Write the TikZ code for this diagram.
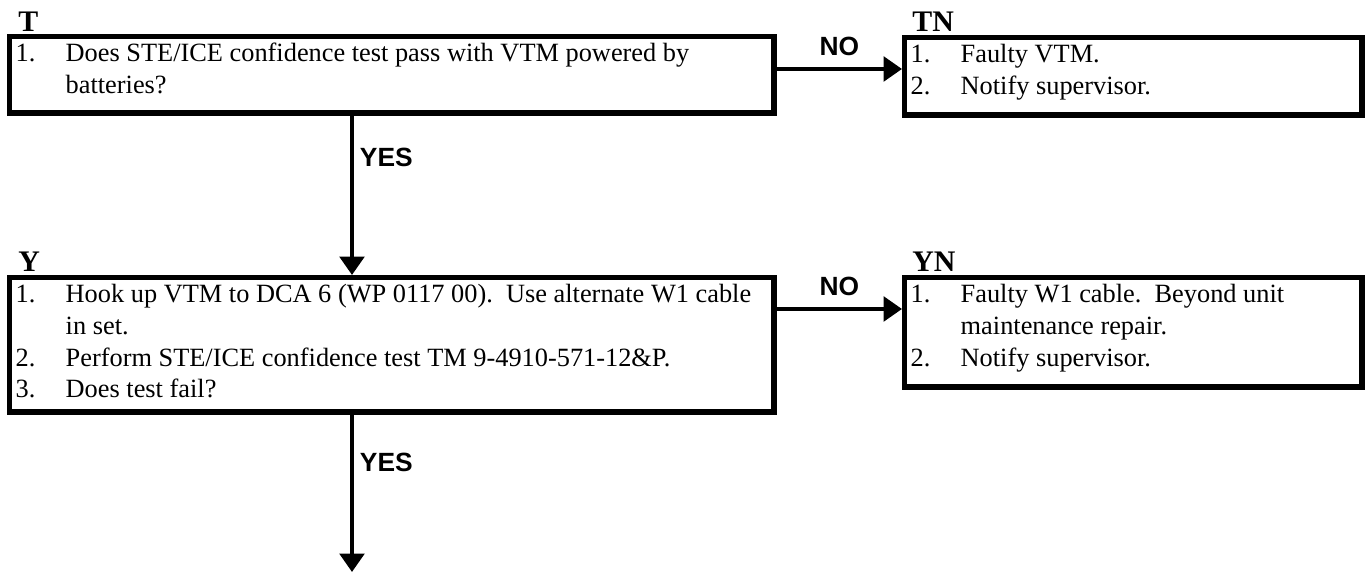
\documentclass[tikz,border=0pt]{standalone}
\usepackage{fontspec}
\setmainfont{Liberation Serif}
\setsansfont{Liberation Sans}
\usetikzlibrary{arrows.meta, positioning}

\newcommand{\steptext}{\fontsize{15}{18}\selectfont}
\newcommand{\stepitem}[2]{\par\hangindent=1.0cm\hangafter=1\noindent\strut\makebox[1.0cm][l]{#1}#2}
\newcommand{\stepbody}[3]{\parbox[c][#2][t]{#1}{\raggedright #3}}

\begin{document}
\begin{tikzpicture}[x=0.02cm, y=-0.02cm,
  stepbox/.style={draw, line width=3.1pt, anchor=north west, inner xsep=0.12cm, inner ysep=0.06cm, font=\steptext},
  tag/.style={anchor=base west, inner sep=0pt, font=\fontsize{17}{17}\selectfont\bfseries},
  answer/.style={font=\fontsize{15}{15}\selectfont\sffamily\bfseries, inner sep=0pt},
  flow/.style={line width=2.2pt, -{Triangle[length=10.5pt,width=14pt]}}]
 \useasboundingbox (0,0) rectangle (1370,573);
 % first check and its no branch
 \node[stepbox] (t) at (7,34) {\stepbody{15.05cm}{1.41cm}{%
   \stepitem{1.}{Does STE/ICE confidence test pass with VTM powered by\newline batteries?}}};
 \node[tag] (tlbl) at (18,32) {T};
 \node[stepbox] (tn) at (902,35) {\stepbody{8.91cm}{1.43cm}{%
   \stepitem{1.}{Faulty VTM.}
   \stepitem{2.}{Notify supervisor.}}};
 \node[tag] (tnlbl) at (912,32) {TN};
 % second check and its no branch
 \node[stepbox] (y) at (7,275) {\stepbody{15.05cm}{2.57cm}{%
   \stepitem{1.}{Hook up VTM to DCA 6 (WP 0117 00).\ \ Use alternate W1 cable\newline in set.}
   \stepitem{2.}{Perform STE/ICE confidence test TM 9-4910-571-12\&P.}
   \stepitem{3.}{Does test fail?}}};
 \node[tag] (ylbl) at (18,272) {Y};
 \node[stepbox] (yn) at (902,275) {\stepbody{8.91cm}{2.07cm}{%
   \stepitem{1.}{Faulty W1 cable.\ \ Beyond unit\newline maintenance repair.}
   \stepitem{2.}{Notify supervisor.}}};
 \node[tag] (ynlbl) at (912,272) {YN};
 % connectors
 \coordinate (tno) at ([yshift=-0.7cm]t.north east);
 \coordinate (yno) at ([yshift=-0.68cm]y.north east);
 \coordinate (drop) at (352,0);
 \coordinate (next) at (352,572);
 \draw[flow] (tno) -- (tno -| tn.west) node[answer, midway, above=0.22cm] {NO};
 \draw[flow] (yno) -- (yno -| yn.west) node[answer, midway, above=0.22cm] {NO};
 \draw[flow] (t.south -| drop) -- (y.north -| drop) node[answer, pos=0.26, right=0.12cm] {YES};
 \draw[flow] (y.south -| drop) -- (next) node[answer, pos=0.3, right=0.12cm] {YES};
\end{tikzpicture}
\end{document}
